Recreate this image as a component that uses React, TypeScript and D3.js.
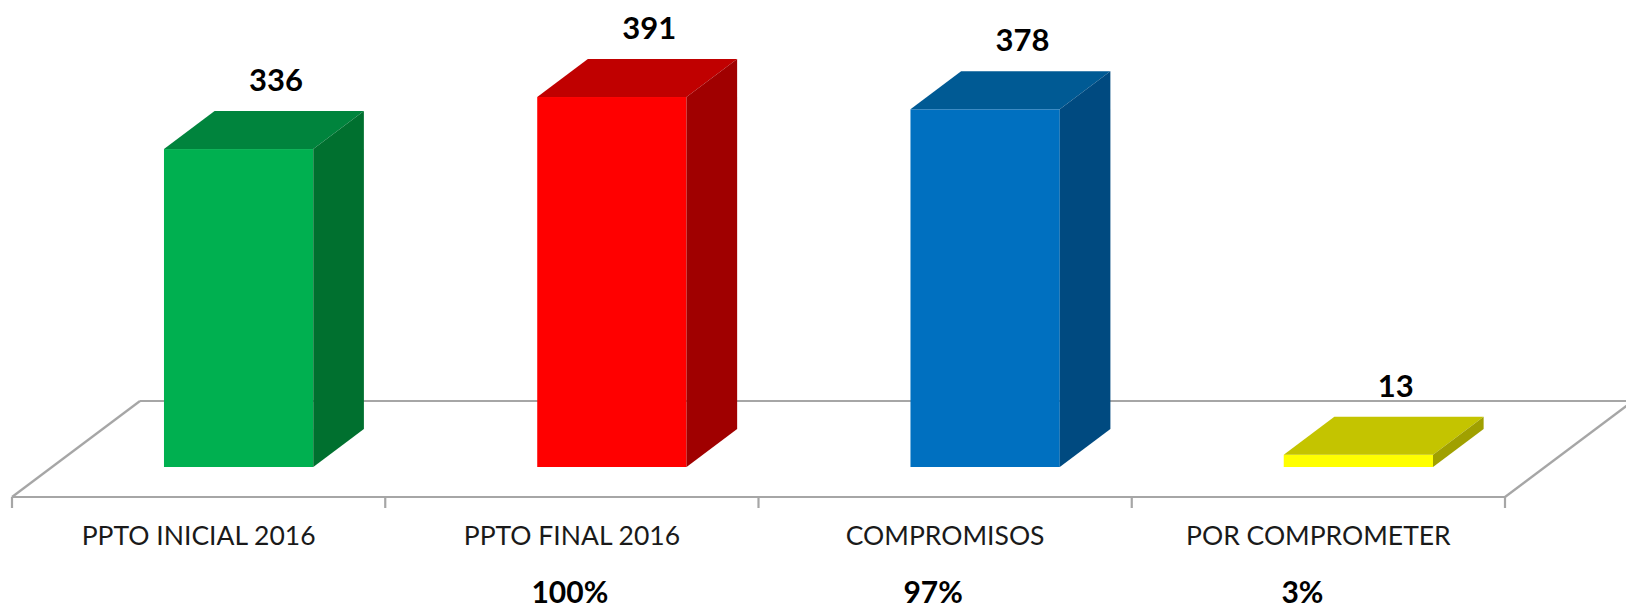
import React from "react";
import * as d3 from "d3";

const categories = ["PPTO INICIAL 2016", "PPTO FINAL 2016", "COMPROMISOS", "POR COMPROMETER"];
const values = [336, 391, 378, 13];
const percents = ["", "100%", "97%", "3%"];
const frontColors = ["#00B050", "#FF0000", "#0070C0", "#FFFF00"];
const topColors = ["#00843D", "#C00000", "#005A94", "#C4C400"];
const sideColors = ["#00702F", "#A00000", "#004A80", "#A0A000"];

const W = 1626;
const H = 613;
const floorY = 497;
const floorLeft = 12;
const floorRight = 1505;
const depth = { dx: 128, dy: -96 };
// bars sit between these fractions of the floor depth
const barFront = 0.3125;
const barBack = 0.708;

const App: React.FC = () => {
  const x = d3.scaleBand<string>().domain(categories).range([floorLeft, floorRight]).padding(0);
  const baseY = floorY + depth.dy * barFront;
  const y = d3.scaleLinear().domain([0, 400]).range([baseY, baseY - 378.5]);
  const shiftX = depth.dx * barFront;
  const bdx = depth.dx * (barBack - barFront);
  const bdy = depth.dy * (barBack - barFront);
  const barW = x.bandwidth() * 0.4;
  const font = "Lato, 'Open Sans', sans-serif";
  const pctOffsets = [0, -2, -12, -16];
  const pts = (p: [number, number][]) => p.map((d) => d.join(",")).join(" ");

  const ticks = categories.map((c) => x(c)!).concat([floorRight]);

  return (
    <svg width={W} height={H} style={{ position: "absolute", left: 0, top: 0, background: "#fff" }}>
      <g stroke="#A6A6A6" strokeWidth={2.2} fill="none">
        <line x1={floorLeft} y1={floorY} x2={floorRight} y2={floorY} />
        <line x1={floorLeft} y1={floorY} x2={floorLeft + depth.dx} y2={floorY + depth.dy} />
        <line x1={floorLeft + depth.dx} y1={floorY + depth.dy} x2={floorRight + depth.dx} y2={floorY + depth.dy} />
        <line x1={floorRight} y1={floorY} x2={floorRight + depth.dx} y2={floorY + depth.dy} />
        {ticks.map((t, i) => (
          <line key={i} x1={t} y1={floorY} x2={t} y2={floorY + 11} />
        ))}
      </g>
      {categories.map((c, i) => {
        const cx = x(c)! + x.bandwidth() / 2 + shiftX;
        const x0 = cx - barW / 2;
        const x1 = cx + barW / 2;
        const yt = y(values[i]);
        const yb = y(0);
        return (
          <g key={c}>
            <rect x={x0} y={yt} width={barW} height={yb - yt} fill={frontColors[i]} />
            <polygon
              points={pts([[x0, yt], [x1, yt], [x1 + bdx, yt + bdy], [x0 + bdx, yt + bdy]])}
              fill={topColors[i]}
            />
            <polygon
              points={pts([[x1, yt], [x1 + bdx, yt + bdy], [x1 + bdx, yb + bdy], [x1, yb]])}
              fill={sideColors[i]}
            />
            <text
              x={cx + bdx / 2 + 12}
              y={yt + bdy - 20}
              textAnchor="middle"
              fontFamily={font}
              fontWeight="bold"
              fontSize={31}
              fill="#000"
            >
              {values[i]}
            </text>
          </g>
        );
      })}
      {categories.map((c, i) => (
        <g key={"l" + c} fontFamily={font} textAnchor="middle" fill="#1a1a1a">
          <text x={x(c)! + x.bandwidth() / 2} y={545} fontSize={26.5}>
            {c}
          </text>
          {percents[i] && (
            <text x={x(c)! + x.bandwidth() / 2 + pctOffsets[i]} y={603} fontSize={30} fontWeight="bold" fill="#000">
              {percents[i]}
            </text>
          )}
        </g>
      ))}
    </svg>
  );
};

export default App;
